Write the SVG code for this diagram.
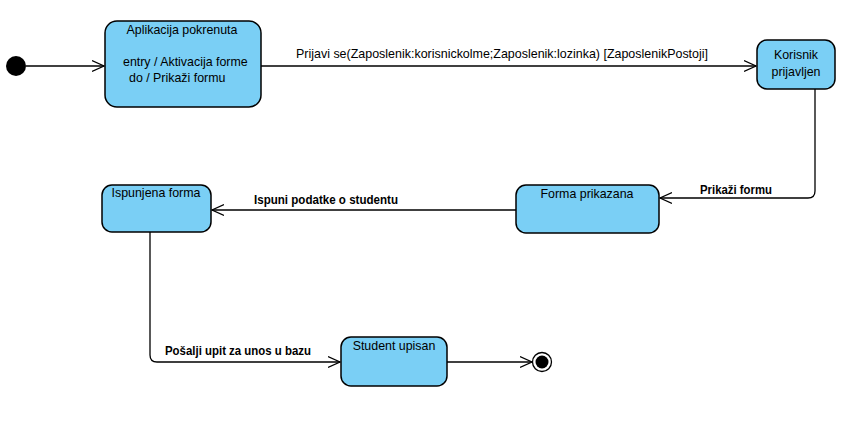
<svg xmlns="http://www.w3.org/2000/svg" width="861" height="423" viewBox="0 0 861 423">
<style>
.st{fill:#7ACFF5;stroke:#000;stroke-width:1.5}
.t{font-family:"Liberation Sans",Arial,sans-serif;font-size:12.4px;fill:#000}
.e{fill:none;stroke:#000;stroke-width:1.3}
</style>
<defs>
<marker id="a" markerWidth="14" markerHeight="14" refX="12" refY="7" orient="auto" markerUnits="userSpaceOnUse">
<path d="M0,1.5 L12,7 L0,12.5" fill="none" stroke="#000" stroke-width="1.3"/>
</marker>
</defs>
<rect width="861" height="423" fill="#fff"/>
<g id="connectors">
<line class="e" x1="26" y1="66" x2="104" y2="66" marker-end="url(#a)"/>
<line class="e" x1="261" y1="66" x2="756" y2="66" marker-end="url(#a)"/>
<path class="e" d="M815,89 V191 Q815,198 808,198 H660" marker-end="url(#a)"/>
<line class="e" x1="516" y1="210" x2="212" y2="210" marker-end="url(#a)"/>
<path class="e" d="M150,232 V355 Q150,362 157,362 H340" marker-end="url(#a)"/>
<line class="e" x1="447" y1="362" x2="532" y2="362" marker-end="url(#a)"/>
<text class="t" x="296" y="58" textLength="412" lengthAdjust="spacingAndGlyphs">Prijavi se(Zaposlenik:korisnickolme;Zaposlenik:lozinka) [ZaposlenikPostoji]</text>
<text class="t" x="700" y="194" font-weight="bold" textLength="72" lengthAdjust="spacingAndGlyphs">Prikaži formu</text>
<text class="t" x="254" y="204" font-weight="bold" textLength="144" lengthAdjust="spacingAndGlyphs">Ispuni podatke o studentu</text>
<text class="t" x="165" y="355" font-weight="bold" textLength="146" lengthAdjust="spacingAndGlyphs">Pošalji upit za unos u bazu</text>
</g>
<g id="initial"><circle cx="16" cy="66" r="10" fill="#000"/></g>
<g id="n1">
<rect class="st" x="105" y="21" width="156" height="86" rx="12"/>
<text class="t" x="182" y="34" text-anchor="middle">Aplikacija pokrenuta</text>
<text class="t" x="123" y="66">entry / Aktivacija forme</text>
<text class="t" x="129" y="82">do / Prikaži formu</text>
</g>
<g id="n2">
<rect class="st" x="757" y="40" width="78" height="49" rx="10"/>
<text class="t" x="796" y="59" text-anchor="middle">Korisnik</text>
<text class="t" x="796" y="76" text-anchor="middle">prijavljen</text>
</g>
<g id="n3">
<rect class="st" x="516" y="185" width="143" height="48" rx="10"/>
<text class="t" x="587" y="198" text-anchor="middle">Forma prikazana</text>
</g>
<g id="n4">
<rect class="st" x="102" y="185" width="109" height="47" rx="10"/>
<text class="t" x="156" y="197" text-anchor="middle">Ispunjena forma</text>
</g>
<g id="n5">
<rect class="st" x="341" y="337" width="106" height="49" rx="10"/>
<text class="t" x="394" y="350" text-anchor="middle">Student upisan</text>
</g>
<g id="final">
<circle cx="542" cy="362" r="9.5" fill="#fff" stroke="#000" stroke-width="1.3"/>
<circle cx="542" cy="362" r="6.5" fill="#000"/>
</g>
</svg>
